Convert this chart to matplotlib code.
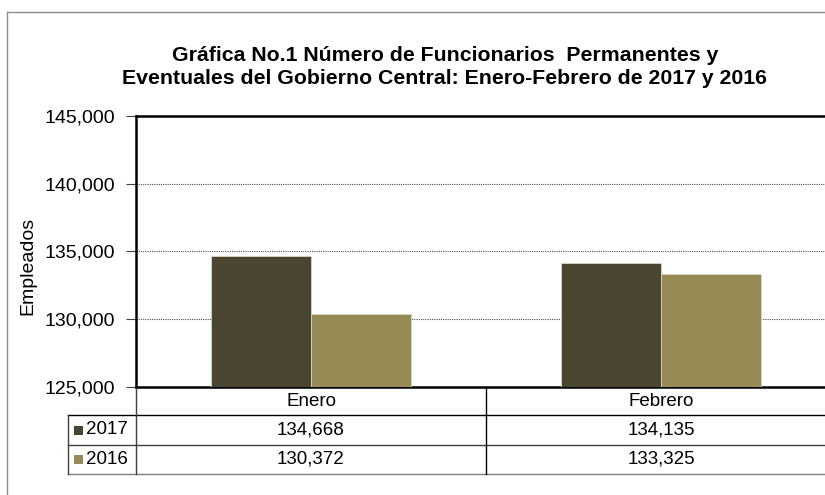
import matplotlib.pyplot as plt
from matplotlib.transforms import blended_transform_factory
from matplotlib.patches import Rectangle

plt.rcParams['font.family'] = ['Liberation Sans', 'DejaVu Sans']

# datos (empleados)
meses = ['Enero', 'Febrero']
series = ['2017', '2016']
valores_2017 = [134668, 134135]
valores_2016 = [130372, 133325]
colores = ['#4a4530', '#968a55']

W, H = 825, 495
fig = plt.figure(figsize=(W / 100, H / 100), dpi=100)


def fx(px):
    return px / W


def fy(py):
    return 1 - py / H


# area del grafico (se sale un poco por la derecha, como en el original)
ax = fig.add_axes([fx(136), fy(387), fx(836) - fx(136), fy(116) - fy(387)])

x = list(range(len(meses)))
ancho = 0.2857
ax.bar([i - ancho / 2 for i in x], valores_2017, ancho, color=colores[0],
       edgecolor='#d8d6c4', linewidth=0.6, zorder=3)
ax.bar([i + ancho / 2 for i in x], valores_2016, ancho, color=colores[1],
       edgecolor='#d8d6c4', linewidth=0.6, zorder=3)

ax.set_xlim(-0.5, 1.5)
ax.set_ylim(125000, 145000)
ax.set_yticks([125000, 130000, 135000, 140000, 145000])
ax.yaxis.set_major_formatter(plt.FuncFormatter(lambda v, p: f'{v:,.0f}'))
ax.tick_params(axis='y', labelsize=14, length=7, width=0.8, pad=8,
               color='#404040', direction='out')
ax.set_xticks([])
ax.grid(axis='y', linestyle=(0, (1, 1)), color='#505050', linewidth=0.8, zorder=0)

for lado in ['left', 'top', 'bottom']:
    ax.spines[lado].set_linewidth(1.8)
    ax.spines[lado].set_color('black')
ax.spines['right'].set_visible(False)

# titulo y etiqueta
fig.text(fx(445), fy(61), 'Gráfica No.1 Número de Funcionarios  Permanentes y',
         ha='center', va='baseline', fontsize=15.3, fontweight='bold')
fig.text(fx(444), fy(84), 'Eventuales del Gobierno Central: Enero-Febrero de 2017 y 2016',
         ha='center', va='baseline', fontsize=15.3, fontweight='bold')
fig.text(fx(28), fy(266), 'Empleados', rotation=90, ha='center', va='center', fontsize=14)

# marco exterior
fig.add_artist(plt.Line2D([fx(7), fx(7)], [fy(12), 0], transform=fig.transFigure,
                          color='#8c8c8c', linewidth=1))
fig.add_artist(plt.Line2D([fx(7), 1], [fy(12), fy(12)], transform=fig.transFigure,
                          color='#8c8c8c', linewidth=1))

# tabla de datos
lx = dict(transform=fig.transFigure, linewidth=1)
fig.add_artist(plt.Line2D([fx(136), 1], [fy(415), fy(415)], color='black', **lx))
fig.add_artist(plt.Line2D([fx(68), fx(136)], [fy(415), fy(415)], color='black', **lx))
fig.add_artist(plt.Line2D([fx(68), 1], [fy(445), fy(445)], color='#404040', **lx))
fig.add_artist(plt.Line2D([fx(68), 1], [fy(474), fy(474)], color='#7f7f7f', **lx))
fig.add_artist(plt.Line2D([fx(68), fx(68)], [fy(415), fy(474)], color='#404040', **lx))
fig.add_artist(plt.Line2D([fx(136), fx(136)], [fy(388), fy(474)], color='#404040', **lx))

tr = blended_transform_factory(ax.transData, fig.transFigure)
fig.add_artist(plt.Line2D([0.5, 0.5], [fy(388), fy(474)], transform=tr,
                          color='black', linewidth=1))

for i, mes in enumerate(meses):
    fig.text(i, fy(401), mes, transform=tr, ha='center', va='center', fontsize=13.5)
    fig.text(i, fy(430), f'{valores_2017[i]:,}', transform=tr, ha='center', va='center', fontsize=13.5)
    fig.text(i, fy(459.5), f'{valores_2016[i]:,}', transform=tr, ha='center', va='center', fontsize=13.5)

for nombre, color, yc in zip(series, colores, [430, 459.5]):
    fig.add_artist(Rectangle((fx(74), fy(yc + 4.5)), fx(9), 9 / H, transform=fig.transFigure,
                             facecolor=color, edgecolor='none'))
    fig.text(fx(86), fy(yc), nombre, ha='left', va='center', fontsize=13.5)

fig.savefig('out.png', dpi=100)
